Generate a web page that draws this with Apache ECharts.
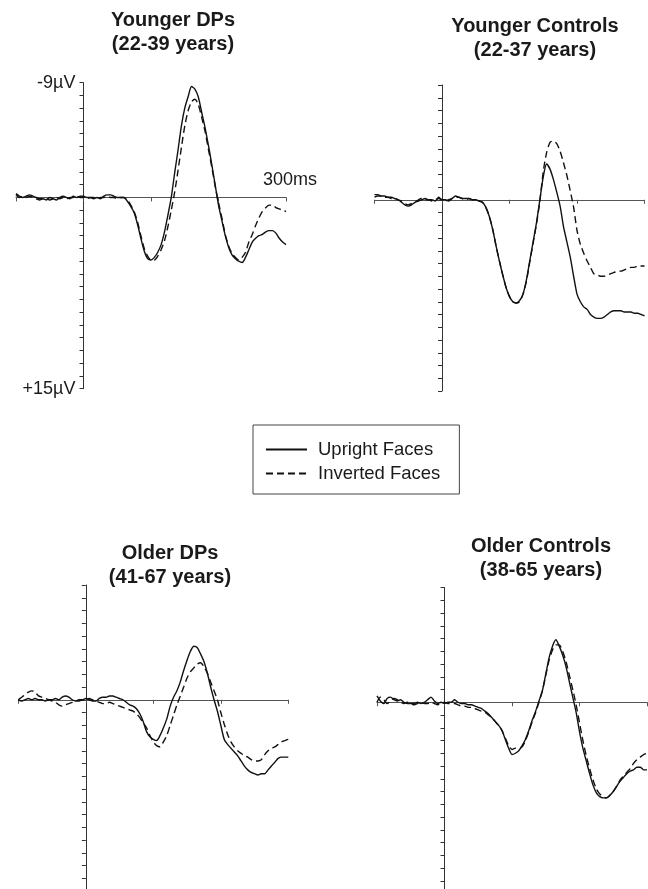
<!DOCTYPE html>
<html lang="en">
<head>
    <meta charset="UTF-8">
    <script src="https://cdn.jsdelivr.net/npm/echarts@6/dist/echarts.min.js"></script>
</head>
<body style="margin:0;background:#fff;">
    <div id="main" style="width:648px;height:889px;"></div>
    <script>
        // sample times (ms)
        var times = [-100,-95,-90,-85,-80,-75,-70,-65,-60,-55,-50,-45,-40,-35,-30,-25,-20,-15,-10,-5,
            0,5,10,15,20,25,30,35,40,45,50,55,60,65,70,75,80,85,90,95,
            100,105,110,115,120,125,130,135,140,145,150,155,160,165,170,175,180,185,190,195,
            200,205,210,215,220,225,230,235,240,245,250,255,260,265,270,275,280,285,290,295,300];

        var panelTitles = ['Younger DPs\n(22-39 years)', 'Younger Controls\n(22-37 years)',
            'Older DPs\n(41-67 years)', 'Older Controls\n(38-65 years)'];
        var seriesNames = ['Upright Faces', 'Inverted Faces'];
        var yTickLabels = {'-9': '-9\u00b5V', '15': '+15\u00b5V'};
        var xEndLabel = '300ms';

        // µV, negative up
        var youngDPUpright = [-0.3,-0.1,0.0,-0.1,-0.2,-0.1,0.0,0.1,0.1,0.2,0.0,0.1,0.2,0.0,-0.1,0.0,0.1,-0.1,0.0,-0.1,
            -0.1,0.0,0.0,0.1,0.0,0.1,-0.1,-0.2,-0.2,-0.1,0.0,0.0,
            0.0,0.3,0.7,1.2,2.1,3.2,4.2,4.8,4.9,4.7,4.3,3.7,2.7,1.4,0.0,-1.9,-3.7,-5.6,-7.0,-7.9,-8.7,-8.5,-7.9,-6.7,
            -5.5,-4.1,-2.6,-1.0,0.6,1.8,3.0,3.9,4.5,4.8,5.0,5.1,4.7,4.1,3.5,3.2,3.0,2.9,2.7,2.6,2.6,2.8,3.2,3.5,3.7];
        var youngDPInverted = [-0.2,0.0,-0.1,0.0,-0.1,0.0,0.1,0.2,0.1,0.1,0.2,0.1,0.0,0.1,0.0,0.1,0.0,0.0,-0.1,0.0,
            0.0,0.1,0.0,0.0,0.1,0.0,0.0,-0.1,0.0,0.0,0.1,0.0,
            0.0,0.2,0.6,1.1,1.9,3.0,4.0,4.6,4.9,4.9,4.6,4.1,3.4,2.3,1.0,-0.4,-2.1,-3.9,-5.6,-6.8,-7.5,-7.7,-7.3,-6.3,
            -5.2,-3.8,-2.4,-0.9,0.4,1.6,2.9,3.8,4.4,4.7,4.9,4.7,4.3,3.5,2.9,2.2,1.6,1.1,0.8,0.6,0.6,0.8,0.9,1.0,1.1];

        var youngCtlUpright = [-0.4,-0.4,-0.3,-0.3,-0.2,-0.2,-0.1,0.0,0.2,0.4,0.5,0.4,0.2,0.1,0.0,-0.1,0.0,0.0,0.1,-0.2,
            0.0,0.0,0.1,-0.1,-0.3,-0.2,-0.1,-0.1,-0.1,0.0,0.0,0.1,
            0.2,0.6,1.3,2.3,3.6,4.8,5.9,6.9,7.6,8.0,8.1,7.9,7.4,6.3,4.8,3.3,1.8,0.0,-1.8,-2.8,-2.4,-1.6,-0.6,0.5,
            2.1,3.3,4.5,6.0,7.4,8.0,8.4,8.6,9.0,9.2,9.3,9.3,9.2,9.0,8.8,8.7,8.7,8.7,8.8,8.8,8.8,8.9,8.9,9.0,9.1];
        var youngCtlInverted = [-0.2,-0.3,-0.3,-0.2,-0.2,-0.1,-0.1,0.0,0.1,0.3,0.4,0.3,0.2,0.0,-0.1,0.0,0.0,0.1,0.0,-0.1,
            0.0,0.1,0.0,-0.1,-0.2,-0.2,-0.1,0.0,-0.1,0.0,0.0,0.1,
            0.2,0.6,1.3,2.3,3.6,4.8,5.9,6.9,7.6,8.0,8.1,8.0,7.4,6.4,4.9,3.4,1.9,0.1,-2.2,-3.7,-4.5,-4.6,-4.4,-3.8,
            -2.9,-1.9,-0.7,0.6,2.4,3.5,4.2,4.8,5.3,5.8,5.9,6.0,6.0,5.9,5.8,5.7,5.6,5.6,5.5,5.4,5.3,5.3,5.2,5.2,5.2];

        var oldDPUpright = [0.0,0.1,0.0,-0.1,0.0,-0.1,0.0,0.0,0.1,0.0,0.0,-0.1,0.0,-0.2,-0.3,-0.2,0.0,0.1,0.0,0.0,
            -0.1,0.0,0.1,0.1,-0.1,-0.2,-0.2,-0.3,-0.3,-0.2,-0.1,0.0,
            0.2,0.4,0.5,0.7,1.1,1.7,2.5,2.9,3.1,3.2,2.8,2.2,1.5,0.5,-0.2,-0.7,-1.4,-2.3,-3.1,-3.8,-4.2,-4.1,-3.6,-3.0,
            -2.1,-1.0,0.0,0.9,2.0,3.1,3.5,3.8,4.1,4.4,4.8,5.2,5.5,5.7,5.8,5.9,5.8,5.8,5.5,5.2,4.9,4.6,4.5,4.5,4.5];
        var oldDPInverted = [0.0,-0.2,-0.4,-0.6,-0.7,-0.6,-0.3,-0.2,-0.1,0.0,0.1,0.2,0.4,0.5,0.4,0.3,0.2,0.1,0.1,0.0,
            0.0,-0.1,0.0,0.1,0.2,0.3,0.3,0.2,0.3,0.4,0.5,0.6,
            0.7,0.8,0.9,1.1,1.4,1.8,2.2,2.8,3.3,3.6,3.7,3.3,2.8,2.0,1.2,0.4,-0.3,-1.0,-1.7,-2.2,-2.5,-2.8,-2.9,-2.6,
            -2.1,-1.4,-0.7,0.0,1.0,1.9,2.7,3.3,3.7,4.0,4.2,4.4,4.5,4.7,4.8,4.8,4.7,4.3,4.0,3.8,3.7,3.5,3.3,3.2,3.1];

        var oldCtlUpright = [-0.5,-0.1,0.1,-0.3,-0.4,-0.2,-0.1,-0.2,0.0,0.1,0.1,0.1,0.0,0.1,0.0,-0.2,-0.4,-0.1,0.1,0.0,
            0.1,0.0,0.0,-0.2,0.0,0.1,0.1,0.2,0.2,0.3,0.4,0.5,
            0.7,0.9,1.2,1.5,1.8,2.2,2.9,3.6,4.1,4.0,3.8,3.4,2.9,2.2,1.4,0.7,-0.1,-0.9,-2.2,-3.5,-4.4,-4.9,-4.4,-3.7,
            -2.8,-1.6,-0.4,0.8,2.3,3.6,4.6,5.6,6.5,7.1,7.4,7.5,7.5,7.3,7.0,6.6,6.2,5.9,5.6,5.4,5.3,5.1,5.1,5.3,5.3];
        var oldCtlInverted = [0.0,-0.4,-0.2,0.1,-0.1,-0.3,-0.2,0.0,0.1,0.0,0.1,0.2,0.1,0.0,0.1,0.1,0.0,0.1,0.2,0.1,
            0.0,0.1,0.1,0.1,0.2,0.3,0.3,0.4,0.4,0.5,0.6,0.7,
            0.8,1.0,1.2,1.5,1.8,2.2,2.8,3.4,3.7,3.6,3.6,3.5,3.0,2.3,1.5,0.8,0.0,-0.9,-2.1,-3.3,-4.1,-4.5,-4.5,-4.0,
            -3.2,-2.1,-1.0,0.2,1.6,3.0,4.2,5.2,6.1,6.8,7.2,7.4,7.5,7.3,7.0,6.6,6.1,5.8,5.5,5.2,4.8,4.5,4.3,4.1,4.0];

        var panelData = [
            [youngDPUpright, youngDPInverted],
            [youngCtlUpright, youngCtlInverted],
            [oldDPUpright, oldDPInverted],
            [oldCtlUpright, oldCtlInverted]
        ];

        var gridBoxes = [
            {left: 16, top: 82.7, width: 270, height: 306},
            {left: 374.5, top: 85, width: 270, height: 306},
            {left: 18.3, top: 585, width: 270, height: 306},
            {left: 377, top: 587.5, width: 270, height: 306}
        ];
        var titlePos = [[173, 8], [535, 14], [170, 541], [541, 534]];

        var font = 'Liberation Sans, Arial, sans-serif';
        var axisColor = '#555';

        var grids = [], xAxes = [], yAxes = [], titles = [], series = [];
        for (var i = 0; i < 4; i++) {
            grids.push(Object.assign({containLabel: false, outerBoundsMode: 'none'}, gridBoxes[i]));
            titles.push({
                text: panelTitles[i],
                left: titlePos[i][0],
                top: titlePos[i][1],
                textAlign: 'center',
                padding: 0,
                textStyle: {fontFamily: font, fontSize: 20, fontWeight: 'bold', color: '#1a1a1a', lineHeight: 24}
            });
            xAxes.push({
                gridIndex: i,
                type: 'value',
                min: -100, max: 300, interval: 100,
                axisLine: {onZero: true, lineStyle: {color: axisColor, width: 1}},
                axisTick: {show: true, length: 4, lineStyle: {color: axisColor}},
                axisLabel: {show: false},
                splitLine: {show: false},
                name: i === 0 ? xEndLabel : '',
                nameLocation: 'end',
                nameGap: 4,
                nameTextStyle: {fontFamily: font, fontSize: 18, color: '#1a1a1a', align: 'center', verticalAlign: 'bottom', padding: [0, 0, 8, 0]}
            });
            // y axis sits at t = 0: shift it in by a quarter of the grid width (range -100..300)
            yAxes.push({
                gridIndex: i,
                type: 'value',
                inverse: true,
                min: -9, max: 15, interval: 1,
                offset: -gridBoxes[i].width * 100 / 400,
                axisLine: {onZero: false, lineStyle: {color: '#333', width: 1}},
                axisTick: {show: true, length: 4, lineStyle: {color: '#333'}},
                splitLine: {show: false},
                axisLabel: {
                    show: i === 0,
                    margin: 8,
                    fontFamily: font, fontSize: 18, color: '#1a1a1a',
                    formatter: function (v) { return yTickLabels[String(v)] || ''; }
                }
            });
            for (var s = 0; s < 2; s++) {
                var vals = panelData[i][s];
                series.push({
                    name: seriesNames[s],
                    type: 'line',
                    xAxisIndex: i, yAxisIndex: i,
                    data: times.map(function (t, k) { return [t, vals[k]]; }),
                    symbol: 'none',
                    smooth: 0.25,
                    silent: true,
                    lineStyle: {color: '#111', width: 1.4, type: s === 0 ? 'solid' : [7, 4]}
                });
            }
        }

        var myChart = echarts.init(document.getElementById('main'));
        myChart.setOption({
            animation: false,
            backgroundColor: '#fff',
            title: titles,
            grid: grids,
            xAxis: xAxes,
            yAxis: yAxes,
            legend: {
                data: seriesNames,
                orient: 'vertical',
                left: 253, top: 425,
                padding: [15, 19, 11, 12],
                itemWidth: 41, itemHeight: 14, itemGap: 5,
                borderColor: '#444', borderWidth: 1,
                selectedMode: false,
                itemStyle: {opacity: 0},
                textStyle: {fontFamily: font, fontSize: 18.5, color: '#1a1a1a', padding: [0, 0, 0, 6]}
            },
            series: series
        });
    </script>
</body>
</html>
